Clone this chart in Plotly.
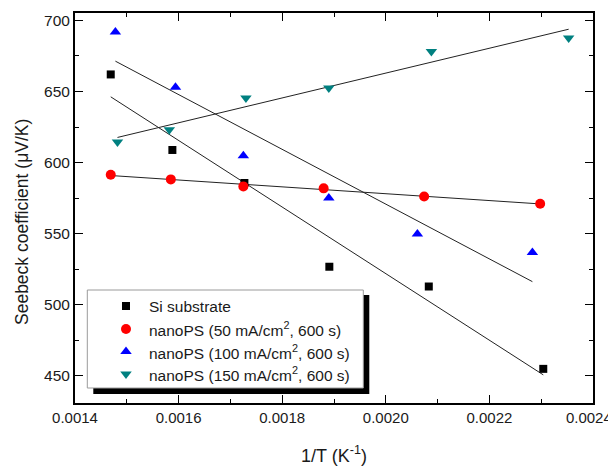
import numpy as np
import plotly.graph_objects as go

# ---- data ----
si_x = [0.001469, 0.001588, 0.001727, 0.001891, 0.002083, 0.002304]
si_y = [662.0, 608.9, 585.7, 526.8, 512.9, 455.0]

np50_x = [0.001469, 0.001585, 0.001725, 0.001880, 0.002074, 0.002298]
np50_y = [591.5, 588.2, 583.3, 581.9, 576.2, 571.1]

np100_x = [0.001478, 0.001594, 0.001725, 0.001890, 0.002061, 0.002283]
np100_y = [691.8, 653.0, 604.9, 575.1, 549.8, 536.9]

np150_x = [0.001482, 0.001582, 0.001730, 0.001890, 0.002088, 0.002353]
np150_y = [614.5, 623.1, 645.4, 652.5, 678.2, 687.6]

# x tick values / labels (last label padded so it stays inside the page)
x_tick_vals = [0.0014, 0.0016, 0.0018, 0.0020, 0.0022, 0.0024]
x_tick_text = ["0.0014", "0.0016", "0.0018", "0.0020", "0.0022", "0.0024\u2007"]

names = ["Si substrate",
         "nanoPS (50 mA/cm<sup>2</sup>, 600 s)",
         "nanoPS (100 mA/cm<sup>2</sup>, 600 s)",
         "nanoPS (150 mA/cm<sup>2</sup>, 600 s)"]
colors = ["#000000", "#ff0000", "#0000ff", "#008080"]
symbols = ["square", "circle", "triangle-up", "triangle-down"]
sizes = [8, 10, 10, 10]

series = [(si_x, si_y), (np50_x, np50_y), (np100_x, np100_y), (np150_x, np150_y)]

FONT = "Liberation Sans, Arial, sans-serif"
TXT = "#1a1a1a"

# The page body has an 8 px default margin, so the figure is shrunk by 8 px
# and all target screen positions are converted to figure pixels.
OFF = 8
W, H = 616 - OFF, 466 - OFF
L, R, T, B = 75.0 - OFF, 593.0 - OFF, 13.0 - OFF, 403.0 - OFF


def px(xs):  # screen px -> x fraction of plot area
    return (xs - OFF - L) / (R - L)


def py(ys):  # screen px -> y fraction of plot area
    return (B - (ys - OFF)) / (B - T)


fig = go.Figure()

# linear fits (drawn first, under markers)
for (xs, ys) in series:
    xa = np.array(xs)
    ya = np.array(ys)
    k, b = np.polyfit(xa, ya, 1)
    xf = np.array([xa.min(), xa.max()])
    fig.add_trace(go.Scatter(x=xf, y=k * xf + b, mode="lines",
                             line=dict(color="#222222", width=1),
                             showlegend=False, hoverinfo="skip"))

for (xs, ys), n, c, s, sz in zip(series, names, colors, symbols, sizes):
    fig.add_trace(go.Scatter(x=xs, y=ys, mode="markers", name=n, showlegend=False,
                             marker=dict(color=c, symbol=s, size=sz, opacity=1,
                                         line=dict(width=0))))

axis_common = dict(showline=True, linewidth=2, linecolor="black", mirror="allticks",
                   ticks="inside", ticklen=8, tickwidth=1.3, tickcolor="black",
                   showgrid=False, zeroline=False, automargin=False,
                   ticklabeloverflow="allow")

fig.update_xaxes(range=[0.0014, 0.0024000001],
                 tickmode="array", tickvals=x_tick_vals, ticktext=x_tick_text,
                 minor=dict(tickmode="linear", tick0=0.0014, dtick=0.0001,
                            ticks="inside", ticklen=4, tickwidth=1.3, tickcolor="black"),
                 tickfont=dict(family=FONT, size=15, color=TXT),
                 **axis_common)
fig.update_yaxes(range=[431, 705.2], dtick=50, tick0=450,
                 minor=dict(dtick=25, ticks="inside", ticklen=4, tickwidth=1.3,
                            tickcolor="black"),
                 tickfont=dict(family=FONT, size=15.5, color=TXT),
                 **axis_common)

# overlay axes in [0,1] for the hand-drawn legend
fig.update_layout(
    xaxis2=dict(overlaying="x", range=[0, 1], autorange=False, visible=False,
                automargin=False),
    yaxis2=dict(overlaying="y", range=[0, 1], autorange=False, visible=False,
                automargin=False),
)

# ---- legend (Origin style box with drop shadow) ----
box = (87.3, 363.3, 290.0, 388.0)
fig.add_shape(type="rect", xref="x2", yref="y2",
              x0=px(box[0] + 6), x1=px(box[1] + 6), y0=py(box[3] + 6), y1=py(box[2] + 5),
              fillcolor="black", line=dict(width=0), layer="below")
fig.add_shape(type="rect", xref="x2", yref="y2",
              x0=px(box[0]), x1=px(box[1]), y0=py(box[3]), y1=py(box[2]),
              fillcolor="white", line=dict(color="#9a9a9a", width=1), layer="below")

leg_rows = [306.0, 329.0, 351.5, 374.0]
leg_mx, leg_tx = 126.0, 147.0
fig.add_trace(go.Scatter(x=[px(leg_mx)] * 4, y=[py(r) for r in leg_rows],
                         xaxis="x2", yaxis="y2", mode="markers", showlegend=False,
                         hoverinfo="skip",
                         marker=dict(color=colors, symbol=symbols, size=sizes, opacity=1,
                                     line=dict(width=0))))
for n, ry in zip(names, leg_rows):
    fig.add_annotation(x=px(leg_tx), y=py(ry), xref="paper", yref="paper",
                       xanchor="left", yanchor="middle", showarrow=False, text=n,
                       font=dict(family=FONT, size=15.5, color=TXT))

# axis titles
fig.add_annotation(x=px(334), y=py(454), xref="paper", yref="paper",
                   xanchor="center", yanchor="middle", showarrow=False,
                   text="1/T (K<sup>-1</sup>)",
                   font=dict(family=FONT, size=18, color=TXT))
fig.add_annotation(x=px(22), y=py(222), xref="paper", yref="paper",
                   xanchor="center", yanchor="middle", showarrow=False, textangle=-90,
                   text="Seebeck coefficient (\u03bcV/K)",
                   font=dict(family=FONT, size=17.5, color=TXT))

fig.update_layout(
    width=W, height=H,
    margin=dict(l=L, r=W - R, t=T, b=H - B, autoexpand=False),
    plot_bgcolor="white", paper_bgcolor="white",
    font=dict(family=FONT, color=TXT),
    showlegend=False,
)

fig.write_html("out.html")
